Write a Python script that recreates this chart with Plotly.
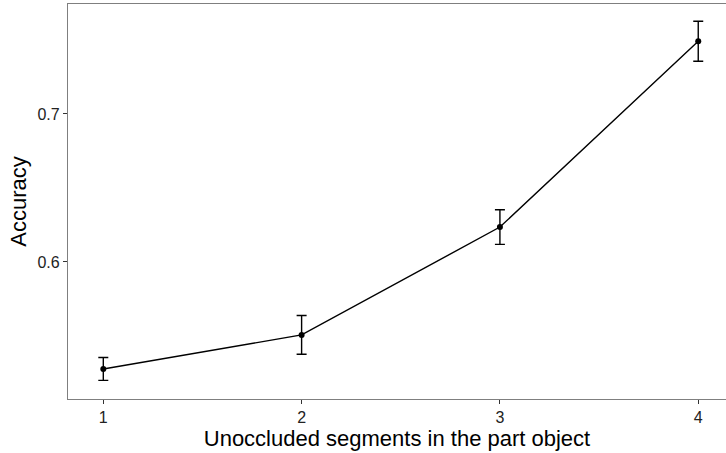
import plotly.graph_objects as go

segments = [1, 2, 3, 4]
accuracy = [0.5277, 0.5507, 0.6236, 0.7491]
err = [0.0077, 0.0131, 0.0117, 0.0135]

fig = go.Figure()
fig.add_trace(go.Scatter(
    x=segments, y=accuracy, mode='lines+markers',
    line=dict(color='black', width=1.4),
    marker=dict(color='black', size=6),
    error_y=dict(type='data', array=err, visible=True, color='black', thickness=1.4, width=5),
    showlegend=False))

fig.update_layout(
    width=726, height=453,
    margin=dict(l=68, r=0, t=4, b=54),
    plot_bgcolor='white', paper_bgcolor='white',
    font=dict(family='Liberation Sans, Arial', color='black'),
)
fig.update_xaxes(
    range=[0.822, 4.14], tickvals=segments, ticktext=['1', '2', '3', '4'],
    showgrid=False, zeroline=False,
    showline=True, mirror=True, linecolor='#7f7f7f', linewidth=1.2,
    ticks='outside', ticklen=4, tickcolor='#333333', tickwidth=1,
    tickfont=dict(size=16, color='#222222'),
    title=dict(text='Unoccluded segments in the part object', font=dict(size=22), standoff=0))
fig.update_yaxes(
    range=[0.5074, 0.7743], tickvals=[0.6, 0.7], ticktext=['0.6', '0.7'],
    showgrid=False, zeroline=False,
    showline=True, linecolor='#7f7f7f', linewidth=1.2,
    ticks='outside', ticklen=4, tickcolor='#333333', tickwidth=1,
    tickfont=dict(size=16, color='#222222'),
    title=dict(text='Accuracy', font=dict(size=22), standoff=4))

# remove the page's default body margin so the figure sits at the window's corner
fig.write_html("out.html",
               config={'displayModeBar': False},
               post_script="document.body.style.margin='0px';"
                           "document.body.style.overflow='hidden';")
